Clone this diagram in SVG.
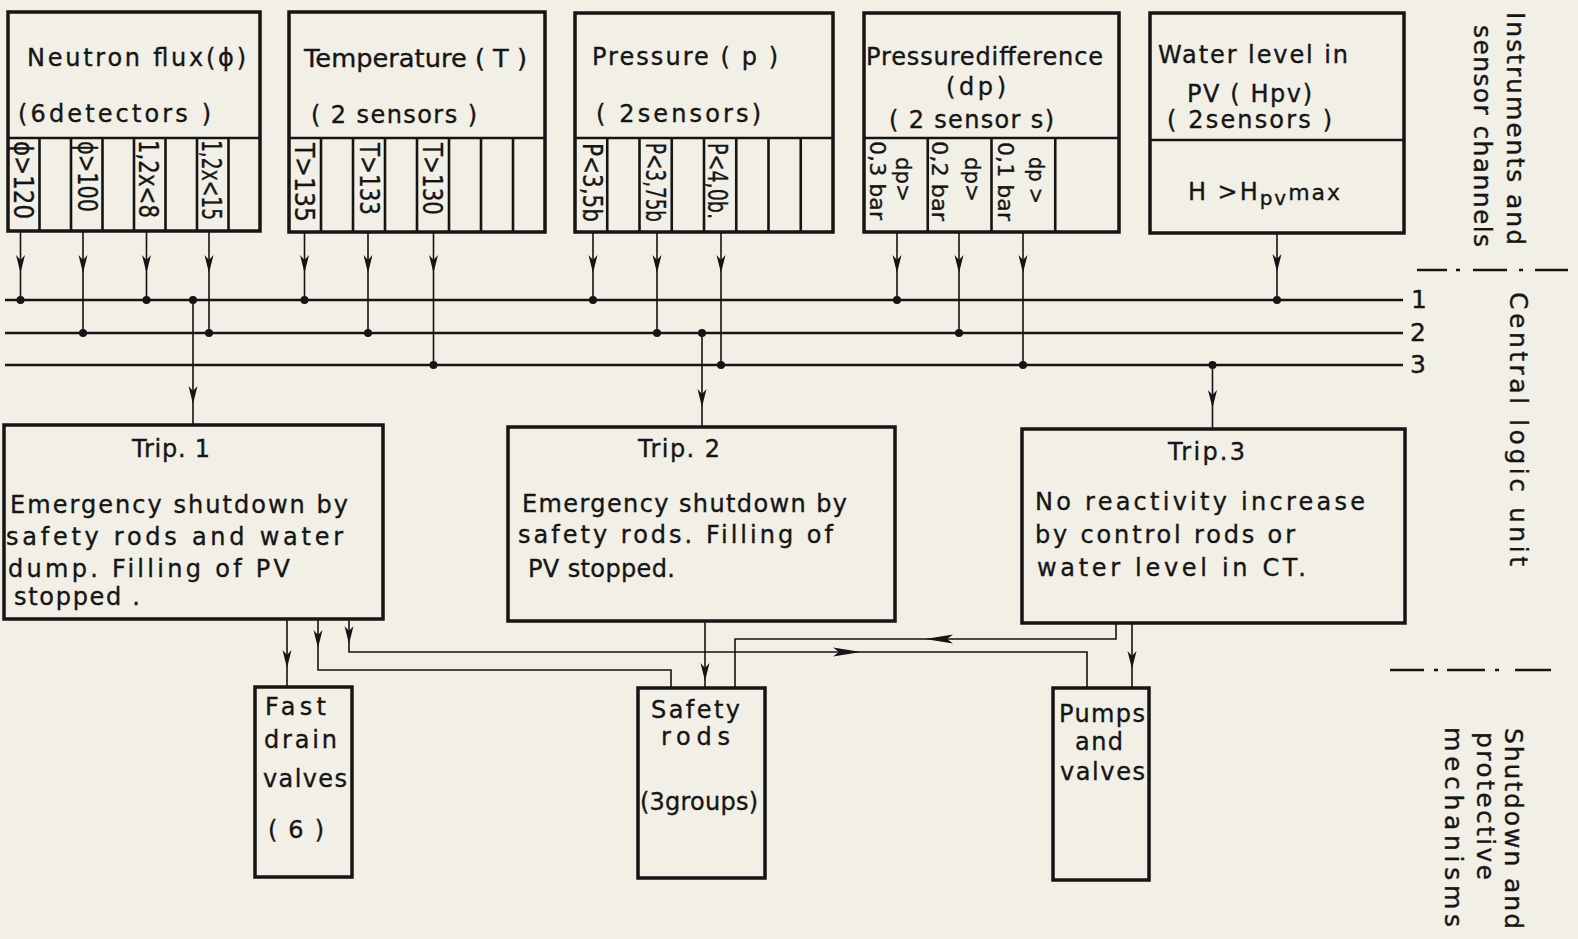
<svg xmlns="http://www.w3.org/2000/svg" xmlns:xlink="http://www.w3.org/1999/xlink" width="1578" height="939" viewBox="0 0 1578 939">
<style>
.bx{fill:none;stroke:#151515;stroke-width:3.5}
.dv{fill:none;stroke:#151515;stroke-width:2.6}
.cn{fill:none;stroke:#151515;stroke-width:1.6}
.bus{fill:none;stroke:#151515;stroke-width:2.6}
.dd{fill:none;stroke:#151515;stroke-width:2.4}
.t{font-family:"DejaVu Sans","Liberation Sans",sans-serif;fill:#151515;stroke:#151515;stroke-width:0.35}
.h{font-size:24px}
.c{font-size:27px}
.s{font-size:21px}
.p{font-size:24px}
.r{font-size:25px}
.dot{fill:#151515}
.ah{fill:#151515}
</style>
<defs>
<path id="ad" d="M0,0 L-4.5,-18 L0,-13 L4.5,-18 Z"/>
<path id="ar" d="M0,0 L-28,-4.5 L-22,0 L-28,4.5 Z"/>
</defs>
<rect width="1578" height="939" fill="#f1efe6"/>

<g id="neutron-flux">
<rect class="bx" x="8" y="12" width="252" height="219"/>
<line class="dv" x1="8" y1="138" x2="260" y2="138"/>
<path class="dv" d="M39.5,138V231M71,138V231M102.5,138V231M134,138V231M165.5,138V231M197,138V231M228.5,138V231"/>
<text class="t h" x="27" y="66" textLength="219" lengthAdjust="spacing">Neutron flux(ϕ)</text>
<text class="t h" x="18" y="122" textLength="193" lengthAdjust="spacing">(6detectors )</text>
<text class="t c" transform="translate(14,141) rotate(90)" textLength="78" lengthAdjust="spacingAndGlyphs">ϕ&gt;120</text>
<text class="t c" transform="translate(77.5,141) rotate(90)" textLength="71" lengthAdjust="spacingAndGlyphs">ϕ&gt;100</text>
<text class="t c" transform="translate(139,140) rotate(90)" textLength="78" lengthAdjust="spacingAndGlyphs">1,2x&lt;8</text>
<text class="t c" transform="translate(201.5,140) rotate(90)" textLength="80" lengthAdjust="spacingAndGlyphs">1,2x&lt;15</text>
</g>

<g id="temperature">
<rect class="bx" x="289" y="12" width="256" height="220"/>
<line class="dv" x1="289" y1="138" x2="545" y2="138"/>
<path class="dv" d="M321,138V232M353,138V232M385,138V232M417,138V232M449,138V232M481,138V232M513,138V232"/>
<text class="t h" x="304" y="67" textLength="223" lengthAdjust="spacingAndGlyphs">Temperature ( T )</text>
<text class="t h" x="311" y="123" textLength="166" lengthAdjust="spacing">( 2 sensors )</text>
<text class="t c" transform="translate(295,143) rotate(90)" textLength="79" lengthAdjust="spacingAndGlyphs">T&gt;135</text>
<text class="t c" transform="translate(360,143) rotate(90)" textLength="72" lengthAdjust="spacingAndGlyphs">T&gt;133</text>
<text class="t c" transform="translate(423,143) rotate(90)" textLength="72" lengthAdjust="spacingAndGlyphs">T&gt;130</text>
</g>

<g id="pressure">
<rect class="bx" x="575" y="13" width="258" height="219"/>
<line class="dv" x1="575" y1="138" x2="833" y2="138"/>
<path class="dv" d="M607.25,138V232M639.5,138V232M671.75,138V232M704,138V232M736.25,138V232M768.5,138V232M800.75,138V232"/>
<text class="t h" x="592" y="65" textLength="186" lengthAdjust="spacing">Pressure ( p )</text>
<text class="t h" x="596" y="122" textLength="165" lengthAdjust="spacing">( 2sensors)</text>
<text class="t c" transform="translate(582.5,143) rotate(90)" textLength="79" lengthAdjust="spacingAndGlyphs">P&lt;3,5b</text>
<text class="t c" transform="translate(645.5,143) rotate(90)" textLength="79" lengthAdjust="spacingAndGlyphs">P&lt;3,75b</text>
<text class="t c" transform="translate(708,143) rotate(90)" textLength="76" lengthAdjust="spacingAndGlyphs">P&lt;4,0b.</text>
</g>

<g id="pressure-difference">
<rect class="bx" x="864" y="13" width="255" height="219"/>
<line class="dv" x1="864" y1="138" x2="1119" y2="138"/>
<path class="dv" d="M927.75,138V232M991.5,138V232M1055.25,138V232"/>
<text class="t h" x="866" y="65" textLength="237" lengthAdjust="spacing">Pressuredifference</text>
<text class="t h" x="946" y="95" textLength="60" lengthAdjust="spacing">(dp)</text>
<text class="t h" x="889" y="128" textLength="165" lengthAdjust="spacing">( 2 sensor s)</text>
<text class="t s" transform="translate(896,157) rotate(90)" textLength="45" lengthAdjust="spacingAndGlyphs">dp&gt;</text>
<text class="t s" transform="translate(869.5,141) rotate(90)" textLength="79" lengthAdjust="spacingAndGlyphs">0,3 bar</text>
<text class="t s" transform="translate(965,157) rotate(90)" textLength="45" lengthAdjust="spacingAndGlyphs">dp&gt;</text>
<text class="t s" transform="translate(932,141) rotate(90)" textLength="80" lengthAdjust="spacingAndGlyphs">0,2 bar</text>
<text class="t s" transform="translate(1029,157) rotate(90)" textLength="47" lengthAdjust="spacingAndGlyphs">dp &gt;</text>
<text class="t s" transform="translate(997.5,142) rotate(90)" textLength="79" lengthAdjust="spacingAndGlyphs">0,1 bar</text>
</g>

<g id="water-level">
<rect class="bx" x="1150" y="13" width="254" height="220"/>
<line class="dv" x1="1150" y1="140" x2="1404" y2="140"/>
<text class="t h" x="1158" y="63" textLength="190" lengthAdjust="spacing">Water level in</text>
<text class="t h" x="1187" y="102" textLength="125" lengthAdjust="spacing">PV ( Hpv)</text>
<text class="t h" x="1167" y="128" textLength="165" lengthAdjust="spacing">( 2sensors )</text>
<text class="t h" x="1188" y="200" textLength="152" lengthAdjust="spacing">H &gt;H<tspan font-size="20" dy="5">pv</tspan><tspan font-size="22" dy="-5">max</tspan></text>
</g>

<g id="trip-1">
<rect class="bx" x="4" y="425" width="379" height="194"/>
<text class="t p" x="132" y="457" textLength="78" lengthAdjust="spacing">Trip. 1</text>
<text class="t p" x="10" y="513" textLength="338" lengthAdjust="spacing">Emergency shutdown by</text>
<text class="t p" x="6" y="545" textLength="337" lengthAdjust="spacing">safety  rods and water</text>
<text class="t p" x="8" y="577" textLength="282" lengthAdjust="spacing">dump. Filling of  PV</text>
<text class="t p" x="14" y="605" textLength="126" lengthAdjust="spacing">stopped .</text>
</g>

<g id="trip-2">
<rect class="bx" x="508" y="427" width="387" height="194"/>
<text class="t p" x="638" y="457" textLength="82" lengthAdjust="spacing">Trip. 2</text>
<text class="t p" x="522" y="512" textLength="325" lengthAdjust="spacing">Emergency shutdown by</text>
<text class="t p" x="518" y="543" textLength="315" lengthAdjust="spacing">safety  rods. Filling of</text>
<text class="t p" x="528" y="577" textLength="147" lengthAdjust="spacing">PV stopped.</text>
</g>

<g id="trip-3">
<rect class="bx" x="1022" y="429" width="383" height="194"/>
<text class="t p" x="1168" y="460" textLength="77" lengthAdjust="spacing">Trip.3</text>
<text class="t p" x="1035" y="510" textLength="330" lengthAdjust="spacing">No reactivity  increase</text>
<text class="t p" x="1035" y="543" textLength="260" lengthAdjust="spacing">by control rods or</text>
<text class="t p" x="1037" y="576" textLength="269" lengthAdjust="spacing">water level in CT.</text>
</g>

<g id="fast-drain-valves">
<rect class="bx" x="255" y="687" width="97" height="190"/>
<text class="t p" x="265" y="715" textLength="61" lengthAdjust="spacing">Fast</text>
<text class="t p" x="264" y="748" textLength="73" lengthAdjust="spacing">drain</text>
<text class="t p" x="263" y="787" textLength="84" lengthAdjust="spacing">valves</text>
<text class="t p" x="268" y="838" textLength="56" lengthAdjust="spacing">( 6 )</text>
</g>

<g id="safety-rods">
<rect class="bx" x="638" y="688" width="127" height="190"/>
<text class="t p" x="651" y="718" textLength="89" lengthAdjust="spacing">Safety</text>
<text class="t p" x="661" y="745" textLength="69" lengthAdjust="spacing">rods</text>
<text class="t p" x="640" y="810" textLength="118" lengthAdjust="spacing">(3groups)</text>
</g>

<g id="pumps-and-valves">
<rect class="bx" x="1053" y="688" width="96" height="192"/>
<text class="t p" x="1059" y="722" textLength="86" lengthAdjust="spacing">Pumps</text>
<text class="t p" x="1075" y="750" textLength="48" lengthAdjust="spacing">and</text>
<text class="t p" x="1060" y="780" textLength="85" lengthAdjust="spacing">valves</text>
</g>

<g id="side-labels">
<text class="t r" transform="translate(1507,12) rotate(90)" textLength="233" lengthAdjust="spacing">Instruments and</text>
<text class="t r" transform="translate(1474,25) rotate(90)" textLength="222" lengthAdjust="spacing">sensor channels</text>
<text class="t r" transform="translate(1510,292) rotate(90)" textLength="274" lengthAdjust="spacing">Central logic unit</text>
<text class="t r" transform="translate(1505,728) rotate(90)" textLength="201" lengthAdjust="spacing">Shutdown and</text>
<text class="t r" transform="translate(1477,732) rotate(90)" textLength="148" lengthAdjust="spacing">protective</text>
<text class="t r" transform="translate(1445,727) rotate(90)" textLength="200" lengthAdjust="spacing">mechanisms</text>
<path class="dd" d="M1417,270H1447M1456,270H1460M1473,270H1507M1519,270H1523M1535,270H1568"/>
<path class="dd" d="M1390,670H1424M1434,670H1438M1447,670H1485M1495,670H1499M1515,670H1551"/>
<text class="t r" x="1411" y="308">1</text>
<text class="t r" x="1410" y="341">2</text>
<text class="t r" x="1410" y="373">3</text>
</g>

<g id="connectors">
<path class="bus" d="M5,300H1403M5,333H1403M5,365H1403"/>
<path class="cn" d="M20.5,231V300M83,231V333M146.5,231V300M209,231V333M304.5,232V300M368,232V333M433.5,232V365M593,232V300M657,232V333M721,232V365M897,232V300M959,232V333M1023,232V365M1277,233V300"/>
<path class="cn" d="M193,300V425M702,333V427M1212.5,365V429"/>
<path class="cn" d="M287,619V687M318,619V670H671V688M349,619V652H1087V688M705,621V688M1116,623V639H735V688M1132,623V688"/>
<g class="dot">
<circle cx="20.5" cy="300" r="4"/><circle cx="146.5" cy="300" r="4"/><circle cx="193" cy="300" r="4"/><circle cx="304.5" cy="300" r="4"/><circle cx="593" cy="300" r="4"/><circle cx="897" cy="300" r="4"/><circle cx="1277" cy="300" r="4"/>
<circle cx="83" cy="333" r="4"/><circle cx="209" cy="333" r="4"/><circle cx="368" cy="333" r="4"/><circle cx="657" cy="333" r="4"/><circle cx="702" cy="333" r="4"/><circle cx="959" cy="333" r="4"/>
<circle cx="433.5" cy="365" r="4"/><circle cx="721" cy="365" r="4"/><circle cx="1023" cy="365" r="4"/><circle cx="1212.5" cy="365" r="4"/>
</g>
<g class="ah">
<use xlink:href="#ad" x="20.5" y="273"/><use xlink:href="#ad" x="83" y="273"/><use xlink:href="#ad" x="146.5" y="273"/><use xlink:href="#ad" x="209" y="273"/>
<use xlink:href="#ad" x="304.5" y="273"/><use xlink:href="#ad" x="368" y="273"/><use xlink:href="#ad" x="433.5" y="273"/>
<use xlink:href="#ad" x="593" y="273"/><use xlink:href="#ad" x="657" y="273"/><use xlink:href="#ad" x="721" y="273"/>
<use xlink:href="#ad" x="897" y="273"/><use xlink:href="#ad" x="959" y="273"/><use xlink:href="#ad" x="1023" y="273"/>
<use xlink:href="#ad" x="1277" y="272"/>
<use xlink:href="#ad" x="193" y="404"/><use xlink:href="#ad" x="702" y="407"/><use xlink:href="#ad" x="1212.5" y="408"/>
<use xlink:href="#ad" x="287" y="668"/><use xlink:href="#ad" x="318" y="648"/><use xlink:href="#ad" x="349" y="644"/>
<use xlink:href="#ad" x="705" y="681"/><use xlink:href="#ad" x="1132" y="669"/>
<use xlink:href="#ar" transform="translate(861,652)"/>
<use xlink:href="#ar" transform="translate(925,639) rotate(180)"/>
</g>
</g>
</svg>
